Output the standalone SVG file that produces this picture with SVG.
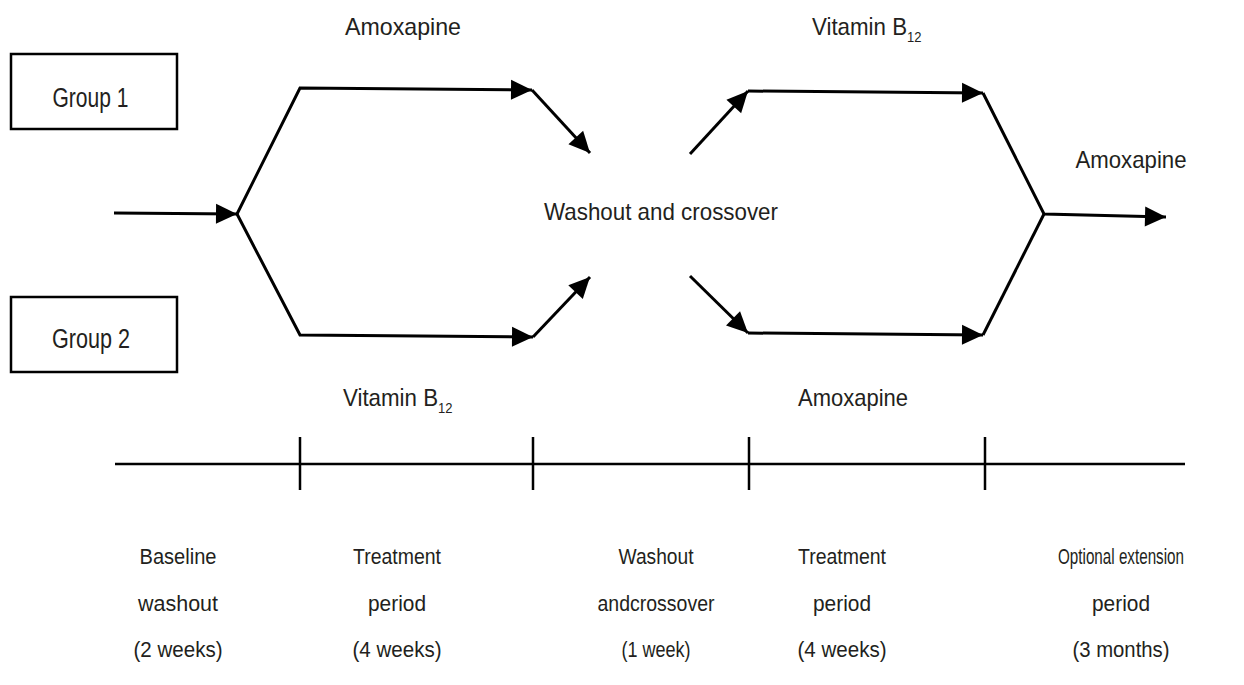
<svg xmlns="http://www.w3.org/2000/svg" width="1244" height="685" viewBox="0 0 1244 685">
<style>
text{font-family:"Liberation Sans",Arial,sans-serif;fill:#231f20;text-anchor:middle}
.lbl{font-size:24px}
.grp{font-size:27px}
.bot{font-size:22px}
.sub{font-size:14px}
.vit{text-anchor:start}
.box{fill:none;stroke:#000;stroke-width:2.5}
.ln{fill:none;stroke:#000;stroke-width:3;stroke-linejoin:miter}
.arr{marker-end:url(#ah)}
.tl{fill:none;stroke:#000;stroke-width:2.5}
</style>
<defs>
<marker id="ah" markerUnits="userSpaceOnUse" markerWidth="24" markerHeight="22" refX="21" refY="10" orient="auto" overflow="visible">
<path d="M0,0 L21,10 L0,20 z" fill="#000"/>
</marker>
</defs>
<rect width="1244" height="685" fill="#fff"/>

<g id="group1">
<rect class="box" x="11" y="54" width="166" height="75"/>
<text class="grp" x="90.5" y="107" textLength="76" lengthAdjust="spacingAndGlyphs">Group 1</text>
</g>
<g id="group2">
<rect class="box" x="11" y="297" width="166" height="75"/>
<text class="grp" x="91" y="348" textLength="78" lengthAdjust="spacingAndGlyphs">Group 2</text>
</g>

<g id="labels">
<text class="lbl" x="403" y="35" textLength="116" lengthAdjust="spacingAndGlyphs">Amoxapine</text>
<text class="lbl vit" transform="translate(812,35) scale(0.93,1)">Vitamin B<tspan class="sub" dy="7">12</tspan></text>
<text class="lbl" x="661" y="220" textLength="234" lengthAdjust="spacingAndGlyphs">Washout and crossover</text>
<text class="lbl" x="1131" y="168" textLength="111" lengthAdjust="spacingAndGlyphs">Amoxapine</text>
<text class="lbl vit" transform="translate(343,406) scale(0.93,1)">Vitamin B<tspan class="sub" dy="7">12</tspan></text>
<text class="lbl" x="853" y="406" textLength="110" lengthAdjust="spacingAndGlyphs">Amoxapine</text>
</g>

<g id="connectors">
<path class="ln arr" d="M114,213 L237,214"/>
<path class="ln arr" d="M237,214 L300,88 L532,90"/>
<path class="ln arr" d="M532,90 L590,153"/>
<path class="ln arr" d="M237,214 L300,335 L533,337"/>
<path class="ln arr" d="M533,337 L590,277"/>
<path class="ln arr" d="M690,154 L748,91"/>
<path class="ln arr" d="M748,91 L983,93"/>
<path class="ln arr" d="M983,93 L1044,214 L1166,217"/>
<path class="ln arr" d="M690,276 L748,333"/>
<path class="ln arr" d="M748,333 L983,335"/>
<path class="ln" d="M983,335 L1044,214"/>
</g>

<g id="timeline">
<path class="tl" d="M115,464 L1185,464"/>
<path class="tl" d="M300,437 V490 M533,437 V490 M749,437 V490 M985,437 V490"/>
</g>

<g id="periods">
<text class="bot" x="178" y="564" textLength="77" lengthAdjust="spacingAndGlyphs">Baseline</text>
<text class="bot" x="178" y="611" textLength="80" lengthAdjust="spacingAndGlyphs">washout</text>
<text class="bot" x="178" y="657" textLength="89" lengthAdjust="spacingAndGlyphs">(2 weeks)</text>
<text class="bot" x="397" y="564" textLength="88" lengthAdjust="spacingAndGlyphs">Treatment</text>
<text class="bot" x="397" y="611" textLength="58" lengthAdjust="spacingAndGlyphs">period</text>
<text class="bot" x="397" y="657" textLength="89" lengthAdjust="spacingAndGlyphs">(4 weeks)</text>
<text class="bot" x="656" y="564" textLength="75" lengthAdjust="spacingAndGlyphs">Washout</text>
<text class="bot" x="656" y="611" textLength="117" lengthAdjust="spacingAndGlyphs">andcrossover</text>
<text class="bot" x="656" y="657" textLength="69" lengthAdjust="spacingAndGlyphs">(1 week)</text>
<text class="bot" x="842" y="564" textLength="88" lengthAdjust="spacingAndGlyphs">Treatment</text>
<text class="bot" x="842" y="611" textLength="58" lengthAdjust="spacingAndGlyphs">period</text>
<text class="bot" x="842" y="657" textLength="89" lengthAdjust="spacingAndGlyphs">(4 weeks)</text>
<text class="bot" x="1121" y="564" textLength="126" lengthAdjust="spacingAndGlyphs">Optional extension</text>
<text class="bot" x="1121" y="611" textLength="58" lengthAdjust="spacingAndGlyphs">period</text>
<text class="bot" x="1121" y="657" textLength="97" lengthAdjust="spacingAndGlyphs">(3 months)</text>
</g>
</svg>
